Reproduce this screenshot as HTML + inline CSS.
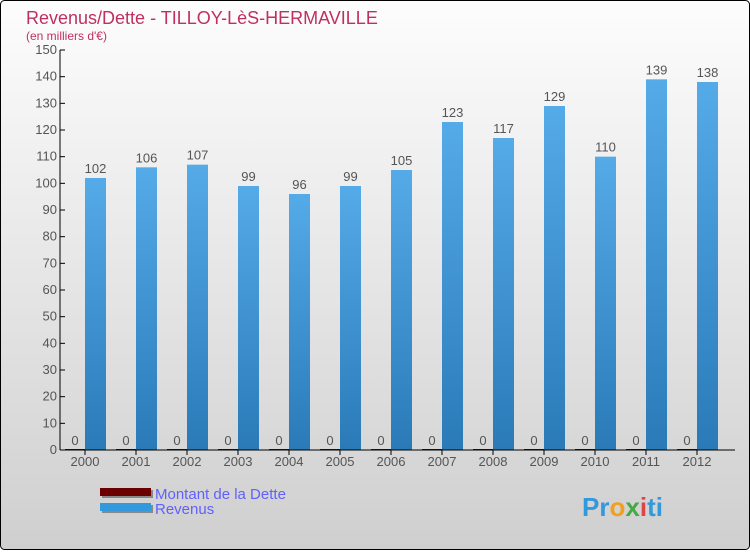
<!DOCTYPE html>
<html><head><meta charset="utf-8"><style>
body{margin:0;}
svg text{font-family:"Liberation Sans",sans-serif;}
</style></head><body>
<svg width="750" height="550" viewBox="0 0 750 550" xmlns="http://www.w3.org/2000/svg">
<defs>
<linearGradient id="bg" x1="0" y1="0" x2="0" y2="1"><stop offset="0" stop-color="#fdfdfd"/><stop offset="1" stop-color="#cfcfcf"/></linearGradient>
<linearGradient id="bar" x1="0" y1="0" x2="0" y2="1"><stop offset="0" stop-color="#55aae8"/><stop offset="1" stop-color="#2a7ab8"/></linearGradient>
</defs>
<rect x="0.5" y="0.5" width="749" height="549" rx="4" fill="url(#bg)" stroke="#000"/>
<text x="26" y="24" font-size="18" fill="#c0305e">Revenus/Dette - TILLOY-LèS-HERMAVILLE</text>
<text x="26" y="40" font-size="12" fill="#c0305e">(en milliers d'€)</text>
<g id="plot"></g>
<rect x="102" y="490" width="51" height="8" fill="#888"/>
<rect x="100" y="488" width="51" height="8" fill="#6b0000"/>
<text x="155" y="499" font-size="15" fill="#6060ff">Montant de la Dette</text>
<rect x="102" y="505" width="51" height="8" fill="#888"/>
<rect x="100" y="503" width="51" height="8" fill="#3399dd"/>
<text x="155" y="514" font-size="15" fill="#6060ff">Revenus</text>
<text x="582" y="516" font-size="26" font-weight="bold" fill="#3399dd">Pr<tspan fill="#f0a020">o</tspan><tspan fill="#44aa44">x</tspan><tspan fill="#dd4444">i</tspan>ti</text>
</svg>
<script>
const years=["2000","2001","2002","2003","2004","2005","2006","2007","2008","2009","2010","2011","2012"];
const dette=[0,0,0,0,0,0,0,0,0,0,0,0,0];
const revenus=[102,106,107,99,96,99,105,123,117,129,110,139,138];
const yTicks=[0,10,20,30,40,50,60,70,80,90,100,110,120,130,140,150];
const NS="http://www.w3.org/2000/svg";
const g=document.getElementById('plot');
const y=v=>450-v*400/150;
const xc=i=>85+i*51;
function mk(t,a,txt){const e=document.createElementNS(NS,t);for(const k in a)e.setAttribute(k,a[k]);if(txt!==undefined)e.textContent=txt;g.appendChild(e);return e;}
yTicks.forEach(v=>{
 const l=mk('line',{x1:60,x2:65,y1:y(v),y2:y(v),stroke:'#000'});
 
 
 const t=mk('text',{x:57,y:y(v)+4,'font-size':13,fill:'#555','text-anchor':'end'},v);
 
 
});
years.forEach((yr,i)=>{
 const c=xc(i);
 const d=mk('rect',{x:c-20,y:y(dette[i])-1,width:20,height:450-y(dette[i])+1,fill:'#6b0000'});
 
 
 const dl=mk('text',{x:c-10,y:y(dette[i])-5,'font-size':13,fill:'#555','text-anchor':'middle'},dette[i]);
 
 
 const r=mk('rect',{x:c,y:y(revenus[i]),width:21,height:450-y(revenus[i]),fill:'url(#bar)'});
 
 
 const rl=mk('text',{x:c+10.5,y:y(revenus[i])-5,'font-size':13,fill:'#555','text-anchor':'middle'},revenus[i]);
 
 
 const tk=mk('line',{x1:c,x2:c,y1:450,y2:455,stroke:'#000'});
 
 
 const xl=mk('text',{x:c,y:466,'font-size':13,fill:'#555','text-anchor':'middle'},yr);
 
 
});
const ya=mk('line',{x1:60,x2:60,y1:50,y2:450,stroke:'#000'});


const xa=mk('line',{x1:60,x2:735,y1:450,y2:450,stroke:'#000'});


</script>
</body></html>
